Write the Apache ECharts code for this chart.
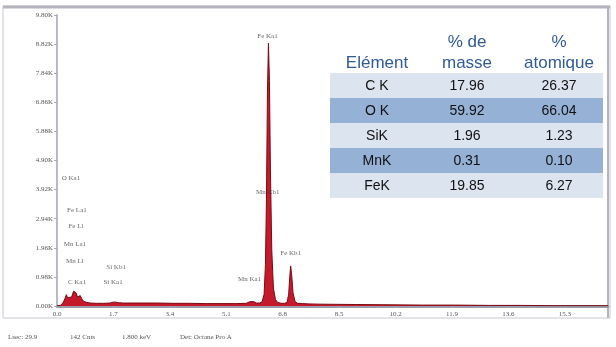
<!DOCTYPE html>
<html><head><meta charset="utf-8">
<script src="https://cdn.jsdelivr.net/npm/echarts@6/dist/echarts.min.js"></script>
<style>html,body{margin:0;padding:0;background:#fff}#c{width:616px;height:347px}</style>
</head><body><div id="c"></div>
<script>
// Spectrum (energy in keV, counts in K)
const energies = [0.00,0.10,0.18,0.24,0.28,0.32,0.38,0.44,0.50,0.53,0.57,0.62,0.66,0.70,0.74,0.80,0.90,1.00,1.20,1.40,1.60,1.70,1.74,1.78,1.85,2.00,2.50,3.00,3.50,4.00,4.50,5.00,5.40,5.70,5.80,5.86,5.92,6.00,6.10,6.18,6.24,6.28,6.31,6.34,6.37,6.40,6.43,6.47,6.52,6.58,6.65,6.75,6.85,6.93,6.98,7.01,7.04,7.07,7.11,7.17,7.25,7.40,7.60,8.00,9.00,10.0,11.0,12.0,13.0,14.0,15.0,16.0,16.6];
const counts   = [0.00,0.02,0.10,0.25,0.38,0.28,0.22,0.30,0.50,0.55,0.45,0.30,0.32,0.35,0.25,0.16,0.12,0.10,0.09,0.09,0.10,0.13,0.16,0.13,0.11,0.10,0.10,0.10,0.09,0.09,0.08,0.08,0.08,0.09,0.14,0.20,0.15,0.10,0.10,0.14,0.40,1.40,3.60,7.20,8.85,7.60,4.60,1.90,0.60,0.22,0.12,0.09,0.09,0.12,0.40,0.95,1.35,1.05,0.45,0.15,0.09,0.08,0.07,0.06,0.05,0.04,0.03,0.03,0.02,0.02,0.01,0.01,0.01];

// Peak labels
const peakNames   = ['Fe Ka1','Mn Kb1','Fe Kb1','Mn Ka1','O Ka1','Fe La1','Fe Ll','Mn La1','Mn Ll','C Ka1','Si Kb1','Si Ka1'];
const peakEnergy  = [6.34,6.35,7.04,5.80,0.42,0.60,0.57,0.54,0.54,0.60,1.78,1.69];
const peakLabelY  = [9.10,3.85,1.78,0.89,4.32,3.23,2.70,2.08,1.52,0.79,1.32,0.79];

// Axis ticks
const xTickStep = 1.7;
const yTickStep = 0.98;

// Table
const tableHeader1 = ['', '% de', '%'];
const tableHeader2 = ['Elément', 'masse', 'atomique'];
const elements  = ['C K','O K','SiK','MnK','FeK'];
const masse     = ['17.96','59.92','1.96','0.31','19.85'];
const atomique  = ['26.37','66.04','1.23','0.10','6.27'];

const statusText = ['Lsec: 29.9','142 Cnts','1.800 keV','Det: Octane Pro A'];

const chart = echarts.init(document.getElementById('c'));

const graphics = [];
// frame
graphics.push({type:'rect', shape:{x:3,y:6,width:607,height:312}, style:{fill:'none', stroke:'#c8c8d0', lineWidth:1}, z:-1});
graphics.push({type:'line', shape:{x1:3,y1:7,x2:610,y2:7}, style:{stroke:'#b4b4c0', lineWidth:3}, z:-1});
graphics.push({type:'line', shape:{x1:608,y1:7,x2:608,y2:318}, style:{stroke:'#b4b4c0', lineWidth:2}, z:-1});
// table
const colX = [377, 467, 559];
const tLeft = 330, tRight = 603, rowTop = 73, rowH = 25;
elements.forEach((el, i) => {
  graphics.push({type:'rect', shape:{x:tLeft, y:rowTop + i*rowH, width:tRight-tLeft, height:rowH},
    style:{fill: i%2===0 ? '#dce4f0' : '#95b1d6'}, z:10});
  [el, masse[i], atomique[i]].forEach((t, j) => {
    graphics.push({type:'text', x:colX[j], y:rowTop + i*rowH + rowH/2 + 1, z:11,
      style:{text:t, fill:'#111', font:'14px "Liberation Sans", Arial, sans-serif', textAlign:'center', textVerticalAlign:'middle'}});
  });
});
tableHeader1.forEach((t,j)=>{
  graphics.push({type:'text', x:colX[j], y:42, z:11, style:{text:t, fill:'#2f5b96', font:'17px "Liberation Sans", Arial, sans-serif', textAlign:'center', textVerticalAlign:'middle'}});
});
tableHeader2.forEach((t,j)=>{
  graphics.push({type:'text', x:colX[j], y:63, z:11, style:{text:t, fill:'#2f5b96', font:'17px "Liberation Sans", Arial, sans-serif', textAlign:'center', textVerticalAlign:'middle'}});
});
// status line
const statusX = [8, 70, 122, 180];
statusText.forEach((t,i)=>{
  graphics.push({type:'text', x:statusX[i], y:337, style:{text:t, fill:'#555', font:'7px "Liberation Serif", serif', textVerticalAlign:'middle'}});
});

chart.setOption({
  animation:false,
  grid:{left:57, right:8, top:15, bottom:41},
  xAxis:{type:'value', min:0, max:16.6, interval:xTickStep,
    axisLine:{lineStyle:{color:'#9c9cab', width:3}},
    axisTick:{show:true, length:2, lineStyle:{color:'#aaa'}},
    splitLine:{show:false},
    axisLabel:{showMaxLabel:false, color:'#555', fontSize:7, fontFamily:'"Liberation Serif", serif', margin:5,
      formatter:v=>v.toFixed(1)}},
  yAxis:{type:'value', min:0, max:9.8, interval:yTickStep,
    axisLine:{show:true, lineStyle:{color:'#b9b9c9', width:2}},
    axisTick:{show:true, length:3, lineStyle:{color:'#aaa'}},
    splitLine:{show:false},
    axisLabel:{color:'#555', fontSize:7, fontFamily:'"Liberation Serif", serif', margin:4,
      formatter:v=>v.toFixed(2)+'K'}},
  series:[
    {type:'line', data: energies.map((e,i)=>[e, counts[i]]), symbol:'none', smooth:false,
      lineStyle:{color:'#7a0a14', width:1}, areaStyle:{color:'#c41a2c', opacity:1}},
    {type:'scatter', symbolSize:0, z:5,
      data: peakNames.map((n,i)=>({name:n, value:[peakEnergy[i], peakLabelY[i]]})),
      label:{show:true, position:'inside', formatter:p=>p.name, color:'#444', fontSize:7, fontFamily:'"Liberation Serif", serif'}}
  ],
  graphic: graphics
});
</script></body></html>
